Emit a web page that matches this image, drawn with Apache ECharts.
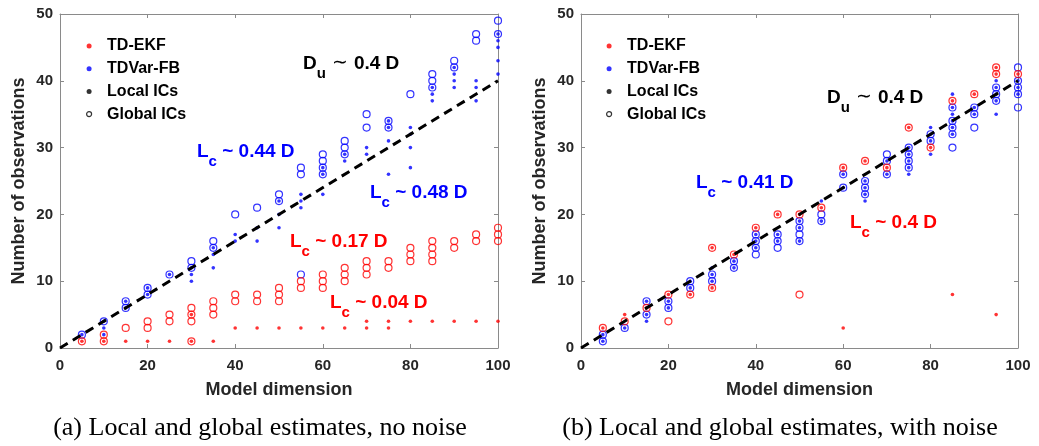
<!DOCTYPE html>
<html>
<head>
<meta charset="utf-8">
<title>Observations needed vs model dimension</title>
<script src="https://cdn.jsdelivr.net/npm/echarts@6/dist/echarts.min.js"></script>
<style>
  html, body { margin: 0; padding: 0; background: #ffffff; }
  #chart { width: 1039px; height: 446px; }
</style>
</head>
<body>
<div id="chart"></div>
<script>
// Model dimensions tested (x positions shared by both panels)
const dims = [5, 10, 15, 20, 25, 30, 35, 40, 45, 50, 55, 60, 65, 70, 75, 80, 85, 90, 95, 100];

// Panel (a): no noise. One list of estimates per model dimension.
const ekfLocalA = [[1],[1],[1],[1],[1],[1,5],[1],[3],[3],[3],[3],[3],[3],[3,4],[3,4],[4],[4],[4],[4],[4]];
const ekfGlobalA = [[1],[1,2],[3],[3,4],[4,5],[1,4,5,6],[5,6,7],[7,8],[7,8],[7,8,9],[9,10],[9,10,11],[10,11,12],[11,12,13],[12,13],[13,14,15],[13,14,15,16],[15,16],[16,17],[16,17,18]];
const varLocalA = [[2],[2,3,4],[6,7],[8,9],[11],[10,11,12],[12,14,15],[16,17],[16,18],[18,20,22],[21,22,23],[23,26,27],[28,29],[29,30],[26,31,33,34],[27,30,32,33],[37,38,39],[39,40,41,42],[37,39,40],[41,43,45,46,47]];
const varGlobalA = [[2],[4],[6,7],[8,9],[11],[12,13],[15,16],[20],[21],[22,23],[11,26,27],[26,27,28,29],[29,30,31],[33,35],[33,34],[38],[39,40,41],[42,43],[46,47],[47,49]];

// Panel (b): with noise.
const ekfLocalB = [[3],[5],[6],[8],[8],[9,15],[14],[18],[20],[20],[21],[3,27],[28],[27],[33],[30],[8,37],[38],[5,41,42],[41]];
const ekfGlobalB = [[3],[4],[6],[4,8],[8],[9,15],[14],[18],[20],[8,20],[21],[27],[28],[27],[33],[30],[37],[38],[41,42],[41]];
const varLocalB = [[1,2],[3],[4,5,7],[6,7],[9,10],[10,11,12],[12,13],[15,16,17],[16,17],[16,18,19],[19,22],[24,26],[22,23,24,25],[26,28],[26,27,28,29,30],[29,31,32,33],[32,33,34,35,36,38],[35,36],[35,37,38,39,40],[38,39,40]];
const varGlobalB = [[1,2],[3],[5,7],[6,7],[9,10],[10,11],[12,13],[14,15,16,17],[15,16,17],[16,17,18,19],[19,20],[24,26],[23,24,25],[26,28,29],[27,28,29,30],[31,32],[30,32,33,34,36],[33,35,36],[37,38,39],[36,38,39,40,42]];

// D_u ~ 0.4 D reference line end points
const duLine = [[0, 0], [100, 40]];

// Axis tick values
const xTicks = { min: 0, max: 100, interval: 20 };
const yTicks = { min: 0, max: 50, interval: 10 };

const legendNames = ['TD-EKF', 'TDVar-FB', 'Local ICs', 'Global ICs'];
const captionA = '(a) Local and global estimates, no noise';
const captionB = '(b) Local and global estimates, with noise';

const RED = '#ff0000';
const BLUE = '#0000ff';
const FRAME = '#8a8a8a';
const INK = '#262626';
const SANS = '"Liberation Sans", Arial, Helvetica, sans-serif';
const SERIF = '"Liberation Serif", "Times New Roman", serif';

function pairs(lists) {
  return dims.flatMap((d, i) => lists[i].map(v => [d, v]));
}

const grids = [
  { left: 60, right: 541, top: 14, bottom: 98 },
  { left: 581, right: 21, top: 14, bottom: 98 }
];

function bottomAxis(g) {
  return {
    type: 'value', gridIndex: g, position: 'bottom', ...xTicks,
    name: 'Model dimension', nameLocation: 'middle', nameGap: 33,
    nameTextStyle: { fontFamily: SANS, fontWeight: 'bold', fontSize: 18, color: INK },
    axisLine: { show: true, onZero: false, lineStyle: { color: FRAME, width: 1 } },
    axisTick: { show: true, inside: true, length: 4, lineStyle: { color: FRAME } },
    axisLabel: { fontFamily: SANS, fontWeight: 'bold', fontSize: 15, color: INK, margin: 10 },
    splitLine: { show: false }
  };
}
function topAxis(g) {
  return {
    type: 'value', gridIndex: g, position: 'top', ...xTicks,
    axisLine: { show: true, onZero: false, lineStyle: { color: FRAME, width: 1 } },
    axisTick: { show: true, inside: true, length: 4, lineStyle: { color: FRAME } },
    axisLabel: { show: false }, splitLine: { show: false }
  };
}
function leftAxis(g) {
  return {
    type: 'value', gridIndex: g, position: 'left', ...yTicks,
    name: 'Number of observations', nameLocation: 'middle', nameGap: 32,
    nameTextStyle: { fontFamily: SANS, fontWeight: 'bold', fontSize: 18, color: INK },
    axisLine: { show: true, onZero: false, lineStyle: { color: FRAME, width: 1 } },
    axisTick: { show: true, inside: true, length: 4, lineStyle: { color: FRAME } },
    axisLabel: { fontFamily: SANS, fontWeight: 'bold', fontSize: 15, color: INK, margin: 7 },
    splitLine: { show: false }
  };
}
function rightAxis(g) {
  return {
    type: 'value', gridIndex: g, position: 'right', ...yTicks,
    axisLine: { show: true, onZero: false, lineStyle: { color: FRAME, width: 1 } },
    axisTick: { show: true, inside: true, length: 4, lineStyle: { color: FRAME } },
    axisLabel: { show: false }, splitLine: { show: false }
  };
}

function globalSeries(name, lists, color, xi, yi) {
  return {
    name, type: 'scatter', xAxisIndex: xi, yAxisIndex: yi, data: pairs(lists),
    symbol: 'circle', symbolSize: 7,
    itemStyle: { color: 'rgba(0,0,0,0)', borderColor: color, borderWidth: 1.2 },
    silent: true, z: 3
  };
}
function localSeries(name, lists, color, xi, yi) {
  return {
    name, type: 'scatter', xAxisIndex: xi, yAxisIndex: yi, data: pairs(lists),
    symbol: 'circle', symbolSize: 3.6,
    itemStyle: { color }, silent: true, z: 4
  };
}
function refLine(xi, yi) {
  return {
    name: 'D_u', type: 'line', xAxisIndex: xi, yAxisIndex: yi, data: duLine,
    symbol: 'none', silent: true, z: 5,
    lineStyle: { color: '#000', width: 3, type: [9, 6] }
  };
}
// Empty series that carry the legend entries
function legendSeries(name, color, hollow) {
  return {
    name, type: 'scatter', xAxisIndex: 0, yAxisIndex: 0, data: [],
    symbol: 'circle',
    itemStyle: hollow ? { color: '#fff', borderColor: color, borderWidth: 1.2 } : { color }
  };
}

function legendAt(left) {
  return {
    orient: 'vertical', left, top: 33, itemWidth: 26, itemHeight: 5, itemGap: 6.7,
    selectedMode: false,
    textStyle: { fontFamily: SANS, fontWeight: 'bold', fontSize: 16, color: '#000', lineHeight: 16 },
    data: [
      { name: legendNames[0], icon: 'circle', itemStyle: { color: RED } },
      { name: legendNames[1], icon: 'circle', itemStyle: { color: BLUE } },
      { name: legendNames[2], icon: 'circle', itemStyle: { color: '#000' } },
      { name: legendNames[3], icon: 'circle', itemStyle: { color: '#fff', borderColor: '#000', borderWidth: 1.2 } }
    ]
  };
}

// Annotation text with a subscript, built from rich text tokens
function labelRich(color) {
  return {
    m: { fontFamily: SANS, fontWeight: 'bold', fontSize: 19, lineHeight: 21, verticalAlign: 'top', fill: color },
    s: { fontFamily: SANS, fontWeight: 'bold', fontSize: 15, lineHeight: 15, padding: [12, 0, 0, 0], verticalAlign: 'top', fill: color },
    t: { fontFamily: '"DejaVu Sans", sans-serif', fontWeight: 'normal', fontSize: 19, lineHeight: 21, verticalAlign: 'top', fill: color }
  };
}
function note(left, top, text, color) {
  return { type: 'text', left, top, silent: true, style: { text, rich: labelRich(color), fill: color } };
}
// Panel captions, centred under each plot
function caption(cx, text) {
  return {
    type: 'text', x: cx, y: 428, silent: true,
    style: { text, fontFamily: SERIF, fontSize: 26, fill: '#000', align: 'center', verticalAlign: 'middle' }
  };
}

const option = {
  backgroundColor: '#ffffff',
  animation: false,
  grid: grids,
  xAxis: [bottomAxis(0), topAxis(0), bottomAxis(1), topAxis(1)],
  yAxis: [leftAxis(0), rightAxis(0), leftAxis(1), rightAxis(1)],
  legend: [legendAt(81), legendAt(601)],
  series: [
    legendSeries(legendNames[0], RED, false),
    legendSeries(legendNames[1], BLUE, false),
    legendSeries(legendNames[2], '#000', false),
    legendSeries(legendNames[3], '#000', true),

    globalSeries('TDVar-FB global (a)', varGlobalA, BLUE, 0, 0),
    globalSeries('TD-EKF global (a)', ekfGlobalA, RED, 0, 0),
    localSeries('TDVar-FB local (a)', varLocalA, BLUE, 0, 0),
    localSeries('TD-EKF local (a)', ekfLocalA, RED, 0, 0),
    refLine(0, 0),

    globalSeries('TDVar-FB global (b)', varGlobalB, BLUE, 2, 2),
    globalSeries('TD-EKF global (b)', ekfGlobalB, RED, 2, 2),
    localSeries('TDVar-FB local (b)', varLocalB, BLUE, 2, 2),
    localSeries('TD-EKF local (b)', ekfLocalB, RED, 2, 2),
    refLine(2, 2)
  ],
  graphic: [
    note(303, 54, '{m|D}{s|u}{t| ∼ }{m|0.4 D}', '#000'),
    note(197, 142, '{m|L}{s|c}{m| ~ 0.44 D}', BLUE),
    note(370, 183, '{m|L}{s|c}{m| ~ 0.48 D}', BLUE),
    note(290, 232, '{m|L}{s|c}{m| ~ 0.17 D}', RED),
    note(330, 293, '{m|L}{s|c}{m| ~ 0.04 D}', RED),
    note(827, 88, '{m|D}{s|u}{t| ∼ }{m|0.4 D}', '#000'),
    note(696, 173, '{m|L}{s|c}{m| ~ 0.41 D}', BLUE),
    note(850, 213, '{m|L}{s|c}{m| ~ 0.4 D}', RED),
    caption(260, captionA),
    caption(780, captionB)
  ]
};

const chart = echarts.init(document.getElementById('chart'), null, { renderer: 'canvas' });
chart.setOption(option);
</script>
</body>
</html>
